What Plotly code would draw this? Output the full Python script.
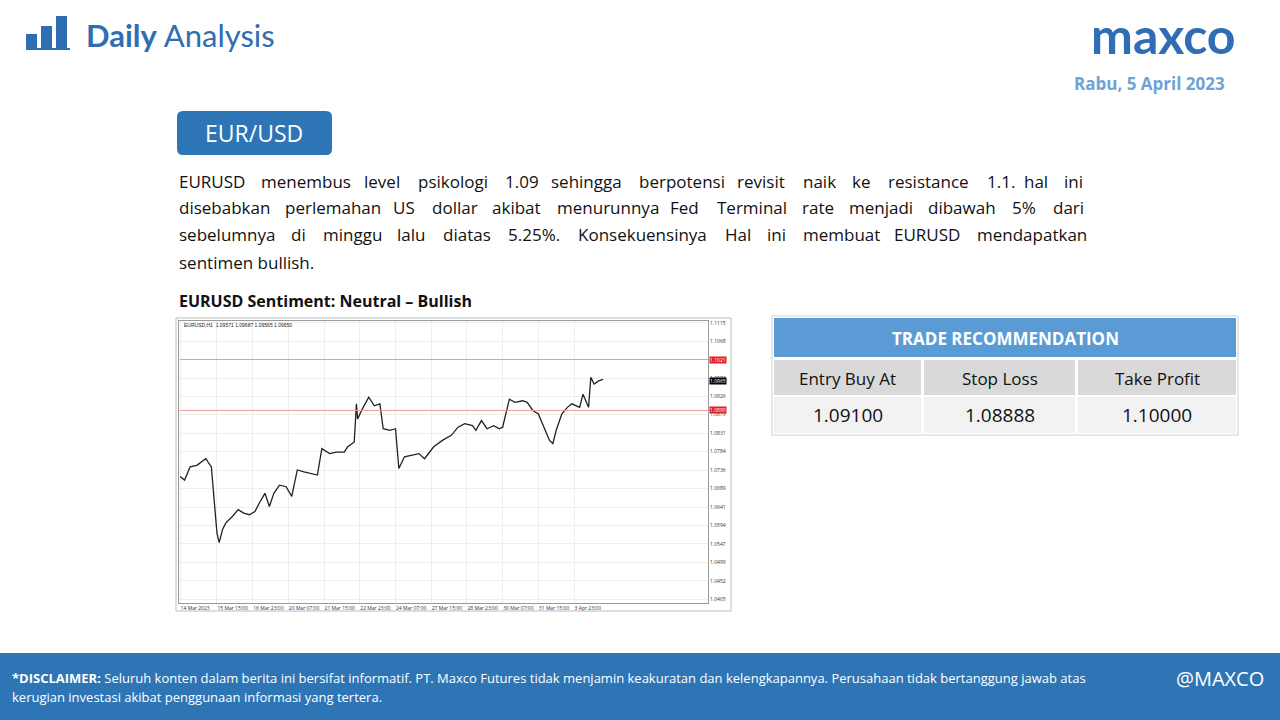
import plotly.graph_objects as go

bar_idx = [0,4,9,15,23,28,31,33,35,38,41,47,52,57,62,67,71,76,80,84,89,95,100,105,111,118,123,127,134,140,147,150,156,158,159,164,169,174,179,182,188,193,196,201,207,214,219,227,235,243,249,255,262,265,270,275,281,286,289,292,295,300,307,311,316,321,326,331,334,337,342,347,351,358,361,366,368,371,375,379]
close = [1.0720,1.0711,1.0745,1.0749,1.0766,1.0745,1.0643,1.0575,1.0550,1.0584,1.0601,1.0618,1.0635,1.0626,1.0622,1.0630,1.0652,1.0677,1.0643,1.0677,1.0698,1.0694,1.0669,1.0737,1.0732,1.0728,1.0724,1.0792,1.0779,1.0783,1.0783,1.0796,1.0809,1.0907,1.0868,1.0898,1.0924,1.0902,1.0907,1.0843,1.0839,1.0843,1.0741,1.0771,1.0775,1.0779,1.0766,1.0796,1.0813,1.0826,1.0847,1.0856,1.0851,1.0839,1.0864,1.0843,1.0851,1.0843,1.0847,1.0881,1.0919,1.0911,1.0915,1.0911,1.0890,1.0881,1.0847,1.0813,1.0805,1.0839,1.0881,1.0898,1.0907,1.0898,1.0932,1.0898,1.0975,1.0958,1.0966,1.0970]
time_tick_pos = [0,33,65,97,129,161,193,225,257,289,321,353]
time_tick_text = ["14 Mar 2023","15 Mar 15:00","16 Mar 23:00","20 Mar 07:00","21 Mar 15:00","22 Mar 23:00","24 Mar 07:00","27 Mar 15:00","28 Mar 23:00","30 Mar 07:00","31 Mar 15:00","3 Apr 23:00"]
price_ticks = [1.1115,1.1068,1.1021,1.0973,1.0926,1.0879,1.0831,1.0784,1.0736,1.0689,1.0641,1.0594,1.0547,1.0499,1.0452,1.0405]
levels = [1.1021,1.0890]
current = 1.0965

headers = ["Entry Buy At","Stop Loss","Take Profit"]
values = ["1.09100","1.08888","1.10000"]

W, H = 1280, 720
def px(x): return x / W
def py(y): return 1 - y / H

fig = go.Figure()
fig.add_trace(go.Scatter(x=bar_idx, y=close, mode="lines", line=dict(color="#222", width=1.3), hoverinfo="skip"))

shapes, ann = [], []
def rect(x0, y0, x1, y1, fill, line=None, lw=0):
    shapes.append(dict(type="rect", xref="paper", yref="paper", x0=px(x0), x1=px(x1), y0=py(y1), y1=py(y0),
                       fillcolor=fill, line=dict(color=line or fill, width=lw), layer="below"))
def text(x, y, s, size, color, bold=False, xa="left", ya="middle", font="Open Sans"):
    ann.append(dict(xref="paper", yref="paper", x=px(x), y=py(y), text=("<b>%s</b>" % s) if bold else s,
                    showarrow=False, xanchor=xa, yanchor=ya, font=dict(size=size, color=color, family=font), align="left"))

def cw(c):
    if c in "il.,:;'|!": return 0.25
    if c in "jtfrI1": return 0.33
    if c in "mwMW%": return 0.86
    if c.isupper(): return 0.64
    if c.isdigit(): return 0.57
    return 0.555

def justify(line, x0, x1, y, size):
    words = line.split(" ")
    widths = [sum(cw(c) for c in w) * size for w in words]
    gap = (x1 - x0 - sum(widths)) / (len(words) - 1)
    x = x0
    for w, wd in zip(words, widths):
        text(x, y, w, size, "#111", font="Open Sans")
        x += wd + gap

# chart frame
rect(176, 318, 731, 611, "white", "#bbbbbb", 1)
for lv in levels:
    shapes.append(dict(type="line", xref="x", yref="y", x0=0, x1=473, y0=lv, y1=lv, line=dict(color="#ee9a9a", width=1)))
for lv, c in [(levels[0], "#e02020"), (levels[1], "#e02020"), (current, "#000")]:
    ann.append(dict(xref="paper", yref="y", x=px(709), y=lv, text="%.4f" % lv, showarrow=False, xanchor="left",
                    bgcolor=c, font=dict(size=5, color="white"), borderpad=0))
text(182, 325, "EURUSD,H1  1.09571 1.09687 1.09565 1.09650", 5, "#222", font="Liberation Sans")

# header
rect(26, 48, 70, 50, "#2f6db5")
for x0, h in [(26, 14), (41, 22), (56, 32)]:
    rect(x0, 48 - h, x0 + 11, 48, "#2f6db5")
text(84, 35, "<b>Daily</b> Analysis", 31, "#2f6db5", font="Lato")
text(1238, 35, "maxco", 50, "#2f6db5", bold=True, xa="right", font="Lato")
text(1227, 83, "Rabu, 5 April 2023", 17, "#6fa3d6", bold=True, xa="right", font="Open Sans")

# EUR/USD badge
shapes.append(dict(type="path", xref="paper", yref="paper",
                   path="M %f %f L %f %f Q %f %f %f %f L %f %f Q %f %f %f %f L %f %f Q %f %f %f %f L %f %f Q %f %f %f %f Z" % (
                       px(183), py(111), px(326), py(111), px(332), py(111), px(332), py(117), px(332), py(149),
                       px(332), py(155), px(326), py(155), px(183), py(155), px(177), py(155), px(177), py(149),
                       px(177), py(117), px(177), py(111), px(183), py(111)),
                   fillcolor="#2e75b6", line=dict(color="#2e75b6", width=0)))
text(254, 133, "EUR/USD", 23, "white", xa="center", font="Open Sans")

para = ["EURUSD menembus level psikologi 1.09 sehingga berpotensi revisit naik ke resistance 1.1. hal ini",
        "disebabkan perlemahan US dollar akibat menurunnya Fed Terminal rate menjadi dibawah 5% dari",
        "sebelumnya di minggu lalu diatas 5.25%. Konsekuensinya Hal ini membuat EURUSD mendapatkan"]
for i, s in enumerate(para):
    justify(s, 177, 1080, 181 + i * 27, 17)
text(177, 262, "sentimen bullish.", 17, "#111", font="Open Sans")
text(177, 301, "EURUSD Sentiment: Neutral \u2013 Bullish", 16, "#111", bold=True, font="Open Sans")

# trade table
rect(772, 316, 1238, 435, "white", "#d0d0d0", 1)
rect(774, 318, 1236, 357, "#5b9bd5")
text(1005, 338, "TRADE RECOMMENDATION", 17, "white", bold=True, xa="center")
cols = [(774, 921), (924, 1075), (1078, 1236)]
for (a, b), h, v in zip(cols, headers, values):
    rect(a, 360, b, 395, "#d9d9d9")
    rect(a, 397, b, 433, "#f2f2f2")
    text((a + b) / 2, 378, h, 17, "#111", xa="center")
    text((a + b) / 2, 415, v, 19, "#111", xa="center")

# footer
rect(0, 653, 1280, 720, "#2e75b6")
text(10, 678, "<b>*DISCLAIMER:</b> Seluruh konten dalam berita ini bersifat informatif. PT. Maxco Futures tidak menjamin keakuratan dan kelengkapannya. Perusahaan tidak bertanggung jawab atas",
     13, "white", font="Open Sans")
text(10, 697, "kerugian investasi akibat penggunaan informasi yang tertera.", 13, "white", font="Open Sans")
text(1266, 678, "@MAXCO", 20, "white", xa="right", font="Open Sans")

fig.update_layout(
    width=W, height=H, margin=dict(l=0, r=0, t=0, b=0, pad=0, autoexpand=False), paper_bgcolor="white", plot_bgcolor="white",
    showlegend=False, shapes=shapes, annotations=ann,
    xaxis=dict(domain=[px(179), px(708)], range=[-1, 473], tickvals=time_tick_pos, ticktext=time_tick_text, automargin=False,
               ticklabelposition="outside right", tickangle=0,
               tickfont=dict(size=5, color="#333"), showgrid=True, gridcolor="#eeeeee", zeroline=False,
               showline=True, linecolor="#999", mirror=True, ticks=""),
    yaxis=dict(domain=[py(603), py(321)], range=[1.0395, 1.1120], side="right", tickvals=price_ticks, automargin=False,
               ticktext=["%.4f" % t for t in price_ticks], tickfont=dict(size=5, color="#333"),
               showgrid=True, gridcolor="#eeeeee", zeroline=False, showline=True, linecolor="#999", mirror=True),
)
fig.write_html("out.html", config={"displayModeBar": False},
               post_script="document.body.style.margin='0';document.body.style.overflow='hidden';"
                           "var d=document.getElementById('{plot_id}');d.style.position='absolute';d.style.left='0px';d.style.top='0px';")
